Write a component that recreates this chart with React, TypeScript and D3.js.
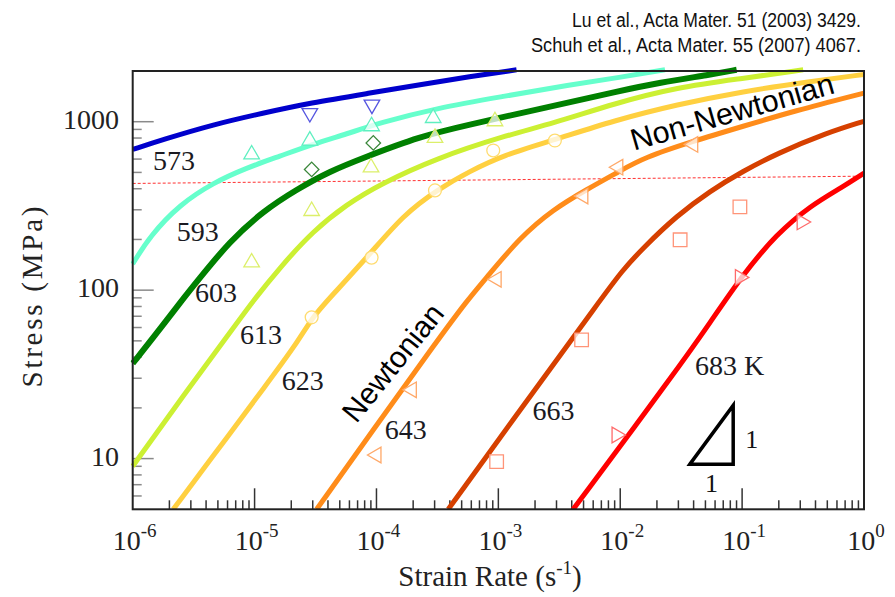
import React, { useRef, useEffect } from "react";
import * as d3 from "d3";

type Pt = [number, number];

const W = 895;
const H = 597;
const box = { left: 132.7, right: 864, top: 71, bottom: 509.3 };

const rateDomain: Pt = [1e-6, 1];
const stressDomain: Pt = [5, 2000];
const xTickExps = ["-6", "-5", "-4", "-3", "-2", "-1", "0"];
const yTickLabels = [10, 100, 1000];

const temps = ["573", "593", "603", "613", "623", "643", "663", "683 K"];

// fitted curves: [strain rate (1/s), stress (MPa)]
const curve573: Pt[] = [
  [1e-6, 684], [1.78e-6, 784], [4.58e-6, 962], [1.18e-5, 1126], [2.84e-5, 1291],
  [8.85e-5, 1479], [2.28e-4, 1658], [5.85e-4, 1857], [1.41e-3, 2033],
];
const curve593: Pt[] = [
  [1e-6, 143], [1.39e-6, 210], [2.44e-6, 323], [4.58e-6, 434], [8.61e-6, 532],
  [1.61e-5, 624], [3.03e-5, 738], [5.7e-5, 846], [1.07e-4, 985], [3.12e-4, 1205],
  [1.1e-3, 1413], [3.86e-3, 1658], [9.93e-3, 1832], [2.33e-2, 2033],
];
const curve603: Pt[] = [
  [1e-6, 36.7], [1.52e-6, 53.7], [2.52e-6, 86.6], [3.35e-6, 112], [6.28e-6, 196],
  [1.18e-5, 295], [2.21e-5, 396], [4.16e-5, 509], [7.8e-5, 610], [2.28e-4, 820],
  [5.85e-4, 962], [1.5e-3, 1122], [3.86e-3, 1303], [9.04e-3, 1503], [2.12e-2, 1710],
  [5.45e-2, 1900], [9.02e-2, 2033],
];
const curve613: Pt[] = [
  [1e-6, 9.0], [2.44e-6, 22.2], [6.28e-6, 56], [9.75e-6, 86.6], [1.61e-5, 136],
  [3.03e-5, 225], [5.7e-5, 323], [1.07e-4, 426], [3.12e-4, 608], [1.1e-3, 820],
  [2.82e-3, 979], [9.04e-3, 1286], [2.9e-2, 1599], [0.102, 1807], [0.317, 2033],
];
const curve623: Pt[] = [
  [2.15e-6, 5.0], [6.28e-6, 14.1], [1.18e-5, 26], [2.21e-5, 48], [2.96e-5, 68.7],
  [4.16e-5, 90.2], [9.02e-5, 166.6], [1.66e-4, 279], [3.12e-4, 393], [5.85e-4, 509],
  [1.1e-3, 633], [2.82e-3, 776], [9.04e-3, 1020], [2.9e-2, 1263], [0.102, 1514],
  [0.36, 1735], [1, 1908],
];
const curve643: Pt[] = [
  [3.23e-5, 5.0], [1.07e-4, 16.9], [3.12e-4, 49.6], [5.52e-4, 86.6], [8.02e-4, 119],
  [1.5e-3, 205], [2.82e-3, 302], [5.3e-3, 396], [9.93e-3, 509], [1.55e-2, 610],
  [3.97e-2, 766], [0.102, 940], [0.262, 1153], [1, 1479],
];
const curve663: Pt[] = [
  [3.88e-4, 5.0], [2.06e-3, 26.5], [6.82e-3, 86.6], [1.03e-2, 130], [1.55e-2, 179],
  [2.9e-2, 276], [5.45e-2, 388], [0.102, 509], [0.192, 646], [0.493, 858], [1, 1006],
];
const curve683: Pt[] = [
  [4.11e-3, 5.0], [2.9e-2, 33.4], [5.45e-2, 64], [0.102, 124.6], [0.192, 215],
  [0.36, 316], [0.675, 412], [1, 495],
];

// measured points
const pts573: Pt[] = [[2.84e-5, 1126], [9.18e-5, 1263]];
const pts593: Pt[] = [[9.46e-6, 639], [2.84e-5, 773], [9.12e-5, 940], [2.92e-4, 1052]];
const pts603: Pt[] = [[2.94e-5, 521], [9.42e-5, 748]];
const pts613: Pt[] = [[9.46e-6, 146], [2.94e-5, 295], [9.02e-5, 535], [3.02e-4, 801], [9.38e-4, 1006]];
const pts623: Pt[] = [[2.94e-5, 69], [9.12e-5, 156], [3.02e-4, 391], [9.08e-4, 675], [2.91e-3, 773]];
const pts643: Pt[] = [[1.0e-4, 10.5], [1.95e-4, 25.6], [9.68e-4, 116], [4.98e-3, 362], [9.64e-3, 537], [3.97e-2, 733]];
const pts663: Pt[] = [[9.68e-4, 9.6], [4.82e-3, 50.7], [3.1e-2, 199], [9.59e-2, 312]];
const pts683: Pt[] = [[9.33e-3, 13.8], [9.59e-2, 119], [0.308, 254]];

const curves = [curve573, curve593, curve603, curve613, curve623, curve643, curve663, curve683];
const points = [pts573, pts593, pts603, pts613, pts623, pts643, pts663, pts683];
const lineColors = ["#0000cc", "#66ffcc", "#008000", "#ccf033", "#ffd040", "#ff8c1a", "#d64000", "#ff0000"];
const markerColors = ["#5555e0", "#5fefc0", "#3a873a", "#dcef6a", "#ffdc70", "#ffa868", "#ff9478", "#ff6a6a"];
const markerShapes = ["down", "up", "diamond", "up", "circle", "left", "square", "right"];

// where each temperature label sits (start of text, baseline)
const labelAt: Pt[] = [
  [1.47e-6, 514], [2.3e-6, 196], [3.24e-6, 84.6], [7.59e-6, 48],
  [1.67e-5, 25.4], [1.17e-4, 13.15], [1.91e-3, 17.05], [4.1e-2, 31.2],
];
const newtonianAt: Pt = [1.36e-4, 37.2];
const nonNewtonianAt: Pt = [8.26e-2, 1153];
const dashLine: Pt[] = [[1e-6, 430], [1, 475]];
const slopeTri: Pt[] = [[0.0373, 9.27], [0.0845, 20.7], [0.0845, 9.27]];

const serif = "'Liberation Serif', 'Times New Roman', serif";
const sans = "'Liberation Sans', Arial, sans-serif";

const App = () => {
  const ref = useRef<SVGSVGElement>(null);

  useEffect(() => {
    const svg = d3.select(ref.current);
    svg.selectAll("*").remove();

    const x = d3.scaleLog().domain(rateDomain).range([box.left, box.right]);
    const y = d3.scaleLog().domain(stressDomain).range([box.bottom, box.top]);

    svg.append("defs").append("clipPath").attr("id", "plotclip")
      .append("rect")
      .attr("x", box.left - 2).attr("y", box.top - 5)
      .attr("width", box.right - box.left + 3).attr("height", box.bottom - box.top + 5);

    // citations
    svg.append("text").attr("x", 861).attr("y", 26.5).attr("text-anchor", "end")
      .attr("font-family", sans).attr("font-size", 19.5).attr("fill", "#111")
      .attr("textLength", 289).attr("lengthAdjust", "spacingAndGlyphs")
      .text("Lu et al., Acta Mater. 51 (2003) 3429.");
    svg.append("text").attr("x", 861).attr("y", 52).attr("text-anchor", "end")
      .attr("font-family", sans).attr("font-size", 19.5).attr("fill", "#111")
      .attr("textLength", 330).attr("lengthAdjust", "spacingAndGlyphs")
      .text("Schuh et al., Acta Mater. 55 (2007) 4067.");

    // y ticks (inside, grey)
    const yt = y.ticks().filter(v => v > 5 && v < 2000);
    svg.append("g").selectAll("line").data(yt).join("line")
      .attr("x1", box.left)
      .attr("x2", d => box.left + (yTickLabels.includes(d) ? 21 : 9))
      .attr("y1", d => y(d)).attr("y2", d => y(d))
      .attr("stroke", "#8a8a8a").attr("stroke-width", 1.5);

    // x ticks (inside, dark)
    const xt = x.ticks().filter(v => v > 1e-6 && v < 1);
    svg.append("g").selectAll("line").data(xt).join("line")
      .attr("x1", d => x(d)).attr("x2", d => x(d))
      .attr("y1", box.bottom)
      .attr("y2", d => box.bottom - (Math.abs(Math.log10(d) - Math.round(Math.log10(d))) < 1e-6 ? 21 : 9))
      .attr("stroke", "#333").attr("stroke-width", 1.5);

    // dashed reference line
    svg.append("path")
      .attr("d", d3.line<Pt>().x(d => x(d[0])).y(d => y(d[1]))(dashLine))
      .attr("stroke", "#ff3030").attr("stroke-width", 1).attr("stroke-dasharray", "3,2").attr("fill", "none");

    // curves
    const line = d3.line<Pt>().x(d => x(d[0])).y(d => y(d[1])).curve(d3.curveBasis);
    svg.append("g").attr("clip-path", "url(#plotclip)")
      .selectAll("path").data(curves).join("path")
      .attr("d", d => line(d))
      .attr("fill", "none")
      .attr("stroke", (d, i) => lineColors[i])
      .attr("stroke-width", (d, i) => (i === 2 ? 6 : 5));

    // markers
    const symbolPath = (shape: string) => {
      if (shape === "circle") return d3.symbol().type(d3.symbolCircle).size(130)();
      if (shape === "square") return d3.symbol().type(d3.symbolSquare).size(185)();
      if (shape === "diamond") return d3.symbol().type(d3.symbolSquare).size(105)();
      return d3.symbol().type(d3.symbolTriangle).size(105)();
    };
    const symbolRot: Record<string, number> = { up: 0, down: 180, left: -90, right: 90, diamond: 45, circle: 0, square: 0 };
    const mg = svg.append("g");
    points.forEach((pts, i) => {
      mg.append("g").selectAll("path").data(pts).join("path")
        .attr("d", symbolPath(markerShapes[i]))
        .attr("transform", d => `translate(${x(d[0])},${y(d[1])}) rotate(${symbolRot[markerShapes[i]]})`)
        .attr("fill", "white").attr("fill-opacity", 0.75)
        .attr("stroke", markerColors[i]).attr("stroke-width", 1.3);
    });

    // frame
    svg.append("rect")
      .attr("x", box.left).attr("y", box.top)
      .attr("width", box.right - box.left).attr("height", box.bottom - box.top)
      .attr("fill", "none").attr("stroke", "#222").attr("stroke-width", 2);

    // temperature labels
    svg.append("g").selectAll("text").data(labelAt).join("text")
      .attr("x", d => x(d[0])).attr("y", d => y(d[1]))
      .attr("font-family", serif).attr("font-size", 28).attr("fill", "#1a1a22")
      .text((d, i) => temps[i]);

    // regime labels
    svg.append("text")
      .attr("transform", `translate(${x(newtonianAt[0])},${y(newtonianAt[1])}) rotate(-51)`)
      .attr("text-anchor", "middle").attr("dominant-baseline", "central")
      .attr("font-family", sans).attr("font-size", 30).attr("fill", "#000")
      .text("Newtonian");
    svg.append("text")
      .attr("transform", `translate(${x(nonNewtonianAt[0])},${y(nonNewtonianAt[1])}) rotate(-16)`)
      .attr("text-anchor", "middle").attr("dominant-baseline", "central")
      .attr("font-family", sans).attr("font-size", 30.5).attr("fill", "#000")
      .text("Non-Newtonian");

    // slope triangle
    svg.append("path")
      .attr("d", d3.line<Pt>().x(d => x(d[0])).y(d => y(d[1]))(slopeTri) + "Z")
      .attr("fill", "none").attr("stroke", "#000").attr("stroke-width", 3.5).attr("stroke-linejoin", "miter");
    svg.append("text")
      .attr("x", x(slopeTri[1][0]) + 12).attr("y", (y(slopeTri[1][1]) + y(slopeTri[2][1])) / 2 + 13)
      .attr("font-family", serif).attr("font-size", 26).attr("fill", "#111").text("1");
    svg.append("text")
      .attr("x", (x(slopeTri[0][0]) + x(slopeTri[2][0])) / 2).attr("y", y(slopeTri[2][1]) + 28)
      .attr("text-anchor", "middle")
      .attr("font-family", serif).attr("font-size", 26).attr("fill", "#111").text("1");

    // y tick labels
    svg.append("g").selectAll("text").data(yTickLabels).join("text")
      .attr("x", 119).attr("y", d => y(d) + 7)
      .attr("text-anchor", "end")
      .attr("font-family", serif).attr("font-size", 28).attr("fill", "#222")
      .text(d => String(d));

    // x tick labels
    const xl = svg.append("g").selectAll("text").data(xTickExps).join("text")
      .attr("x", d => x(Math.pow(10, +d)) + 2).attr("y", 550)
      .attr("text-anchor", "middle")
      .attr("font-family", serif).attr("font-size", 28).attr("fill", "#222");
    xl.append("tspan").text("10");
    xl.append("tspan").attr("dy", -13).attr("font-size", 19).text(d => d);

    // axis titles
    const xt2 = svg.append("text").attr("x", 490).attr("y", 586)
      .attr("text-anchor", "middle")
      .attr("font-family", serif).attr("font-size", 29).attr("fill", "#222");
    xt2.append("tspan").text("Strain Rate (s");
    xt2.append("tspan").attr("dy", -12).attr("font-size", 19).text("-1");
    xt2.append("tspan").attr("dy", 12).text(")");

    svg.append("text")
      .attr("transform", "translate(42,297) rotate(-90)")
      .attr("text-anchor", "middle")
      .attr("font-family", serif).attr("font-size", 29).attr("fill", "#222")
      .attr("textLength", 181).attr("lengthAdjust", "spacing")
      .text("Stress (MPa)");
  }, []);

  return (
    <div>
      <svg ref={ref} width={W} height={H}
        style={{ position: "absolute", left: 0, top: 0, background: "#fff" }} />
    </div>
  );
};

export default App;
